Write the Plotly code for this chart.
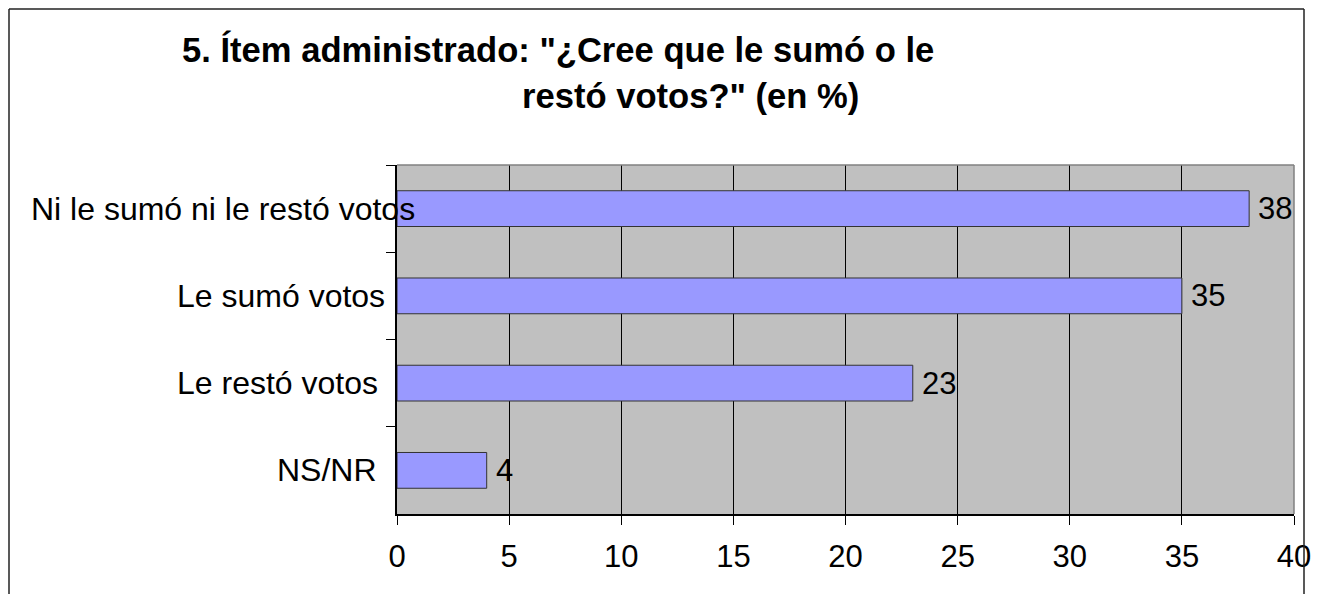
import plotly.graph_objects as go

categorias = ["Ni le sumó ni le restó votos", "Le sumó votos", "Le restó votos", "NS/NR"]
porcentajes = [38, 35, 23, 4]
ticks_x = [0, 5, 10, 15, 20, 25, 30, 35, 40]

titulo_1 = '5. Ítem administrado: "¿Cree que le sumó o le'
titulo_2 = 'restó votos?" (en %)'

# la pagina tiene 8px de margen, asi que se descuenta
OFF = 8
W, H = 1330 - 2 * OFF, 602 - 2 * OFF
L, T = 397 - OFF, 165 - OFF
R = W - (1294 - OFF)
B = H - (514 - OFF)
plot_w = W - L - R
plot_h = H - T - B

def px_x(p):
    return (p - OFF - L) / plot_w

def px_y(p):
    return (H - B - (p - OFF)) / plot_h

fuente = "Liberation Sans, Arial, sans-serif"

fig = go.Figure(go.Bar(
    x=porcentajes,
    y=categorias,
    orientation="h",
    marker=dict(color="#9999FF", line=dict(color="#333333", width=1)),
    width=0.41,
    hoverinfo="skip"
))

# etiquetas de valores a la derecha de cada barra
for cat, v in zip(categorias, porcentajes):
    fig.add_annotation(x=v, y=cat, text=str(v), showarrow=False, xanchor="left",
                       xshift=7, font=dict(family=fuente, size=31, color="black"))

# etiquetas de categorias (estilo Excel, la primera se mete en la barra)
desplaz = [20, -10, -17, -18]
for cat, s in zip(categorias, desplaz):
    fig.add_annotation(x=0, y=cat, text=cat, showarrow=False, xanchor="right",
                       xshift=s, font=dict(family=fuente, size=32, color="black"))

# titulo en dos lineas
fig.add_annotation(xref="paper", yref="paper", x=px_x(180), y=px_y(49), text=titulo_1,
                   showarrow=False, xanchor="left", yanchor="middle",
                   font=dict(family=fuente, size=34.6, color="black", weight="bold"))
fig.add_annotation(xref="paper", yref="paper", x=px_x(861), y=px_y(96), text=titulo_2,
                   showarrow=False, xanchor="right", yanchor="middle",
                   font=dict(family=fuente, size=34.6, color="black", weight="bold"))

# borde gris del area de trazado (arriba y derecha)
fig.add_shape(type="line", xref="x domain", yref="y domain", x0=0, x1=1, y0=1, y1=1,
              line=dict(color="#808080", width=1.5), layer="above")
fig.add_shape(type="line", xref="x domain", yref="y domain", x0=1, x1=1, y0=0, y1=1,
              line=dict(color="#808080", width=1.5), layer="above")

# marco del grafico: izquierda, arriba y derecha (abajo queda fuera)
marco = dict(color="#222222", width=1.5)
fig.add_shape(type="line", xref="paper", yref="paper", x0=px_x(9), x1=px_x(9),
              y0=px_y(640), y1=px_y(9), line=marco, layer="above")
fig.add_shape(type="line", xref="paper", yref="paper", x0=px_x(9), x1=px_x(1304),
              y0=px_y(9), y1=px_y(9), line=marco, layer="above")
fig.add_shape(type="line", xref="paper", yref="paper", x0=px_x(1304), x1=px_x(1304),
              y0=px_y(640), y1=px_y(9), line=marco, layer="above")

fig.update_layout(
    width=W, height=H,
    margin=dict(l=L, r=R, t=T, b=B, autoexpand=False),
    paper_bgcolor="white",
    plot_bgcolor="#C0C0C0",
    showlegend=False,
    bargap=0.59,
    xaxis=dict(
        range=[0, 40],
        tickvals=ticks_x,
        ticks="outside", ticklen=9, tickcolor="black", tickwidth=1,
        showgrid=True, gridcolor="black", gridwidth=1,
        showline=True, linecolor="black", linewidth=1.5,
        zeroline=False,
        tickfont=dict(family=fuente, size=31, color="black"),
        ticklabelstandoff=5,
        fixedrange=True
    ),
    yaxis=dict(
        autorange="reversed",
        showticklabels=False,
        ticks="outside", ticklen=9, tickcolor="black", tickwidth=1,
        tickson="boundaries",
        showgrid=False,
        showline=True, linecolor="black", linewidth=1.5,
        fixedrange=True
    )
)

fig.write_html("out.html")
